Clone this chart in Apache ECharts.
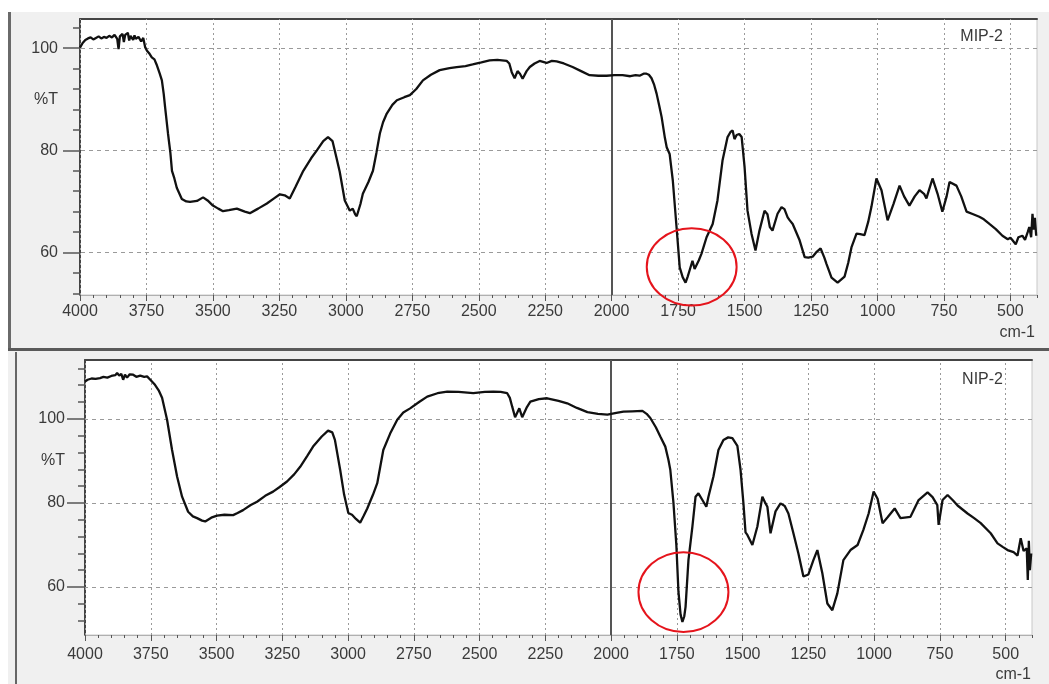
<!DOCTYPE html>
<html>
<head>
<meta charset="utf-8">
<script src="https://cdn.jsdelivr.net/npm/echarts@6/dist/echarts.min.js"></script>
<style>
  html, body { margin: 0; padding: 0; background: #fff; }
  #chart { width: 1049px; height: 684px; }
</style>
</head>
<body>
<div id="chart"></div>
<script>
// MIP-2 spectrum (upper panel), wavenumber cm-1 / %T
var mipWave = [4000, 3990, 3980, 3970, 3960, 3950, 3940, 3930, 3920, 3910, 3900, 3890, 3880, 3870, 3860, 3855, 3850, 3840, 3835, 3830,
  3820, 3815, 3810, 3800, 3795, 3790, 3780, 3770, 3762, 3755, 3748, 3740, 3730, 3720, 3712, 3700, 3692, 3685, 3680, 3669,
  3660, 3654, 3645, 3636, 3617, 3600, 3586, 3560, 3537, 3520, 3500, 3480, 3462, 3440, 3410, 3380, 3361, 3330, 3297, 3270,
  3248, 3230, 3211, 3190, 3160, 3130, 3109, 3085, 3067, 3050, 3035, 3023, 3004, 2985, 2974, 2965, 2959, 2945, 2936, 2915,
  2898, 2885, 2872, 2860, 2846, 2825, 2808, 2780, 2759, 2735, 2710, 2680, 2647, 2610, 2583, 2550, 2523, 2490, 2459, 2430,
  2395, 2385, 2376, 2365, 2354, 2345, 2335, 2320, 2308, 2290, 2271, 2245, 2225, 2207, 2180, 2147, 2115, 2083, 2050, 2019,
  1990, 1959, 1930, 1910, 1895, 1880, 1869, 1860, 1850, 1840, 1831, 1820, 1812, 1800, 1793, 1782, 1770, 1756, 1744, 1733,
  1722, 1714, 1707, 1696, 1688, 1681, 1672, 1662, 1643, 1620, 1602, 1583, 1564, 1553, 1545, 1538, 1530, 1520, 1511, 1500,
  1489, 1474, 1459, 1444, 1425, 1414, 1405, 1395, 1376, 1361, 1350, 1338, 1330, 1319, 1293, 1274, 1260, 1244, 1228, 1214,
  1200, 1192, 1173, 1150, 1124, 1110, 1098, 1079, 1065, 1049, 1035, 1023, 1004, 985, 962, 940, 917, 900, 880, 860,
  842, 825, 816, 793, 774, 756, 740, 729, 703, 685, 665, 640, 617, 600, 579, 555, 530, 510, 500, 492,
  480, 470, 455, 445, 435, 429, 422, 417, 412, 408, 403];
var mipT = [100.1, 101.0, 101.6, 101.9, 102.1, 101.7, 102.0, 102.3, 101.9, 102.2, 102.0, 102.4, 102.1, 102.6, 101.8, 99.8, 102.3, 102.8, 101.2, 102.6,
  103.0, 101.5, 102.4, 101.6, 102.5, 101.8, 102.2, 101.3, 102.0, 100.2, 99.5, 99.0, 98.2, 97.8, 96.8, 95.0, 93.7, 91.0, 88.5, 83.3,
  79.5, 76.0, 74.5, 72.7, 70.5, 70.0, 69.9, 70.1, 70.8, 70.2, 69.2, 68.6, 68.1, 68.3, 68.6, 68.0, 67.7, 68.6, 69.6, 70.6,
  71.4, 71.2, 70.6, 72.8, 76.0, 78.5, 80.0, 81.8, 82.6, 81.8, 78.5, 75.8, 70.2, 68.2, 68.6, 67.5, 67.1, 69.5, 71.5, 73.8,
  76.0, 79.5, 83.3, 85.5, 87.2, 88.9, 89.8, 90.4, 90.8, 92.0, 93.7, 94.8, 95.7, 96.1, 96.3, 96.5, 96.8, 97.2, 97.6, 97.7,
  97.5, 97.0, 95.3, 94.1, 95.5, 95.0, 94.0, 95.5, 96.3, 97.0, 97.5, 97.1, 97.5, 97.4, 97.0, 96.3, 95.5, 94.7, 94.6, 94.6,
  94.7, 94.7, 94.5, 94.7, 94.6, 95.0, 95.0, 94.8, 94.1, 92.8, 91.1, 88.5, 86.5, 82.5, 80.6, 79.3, 74.1, 65.0, 57.1, 55.2,
  54.1, 55.3, 56.5, 58.4, 56.8, 56.5, 58.5, 59.8, 63.0, 65.6, 70.2, 78.0, 82.6, 83.6, 83.9, 82.2, 83.0, 83.2, 82.6, 76.7,
  68.2, 63.7, 60.4, 64.3, 68.2, 67.5, 65.0, 64.3, 67.6, 68.9, 68.5, 66.9, 66.3, 65.6, 62.4, 59.1, 59.0, 59.2, 60.2, 60.8,
  59.0, 57.8, 55.1, 54.1, 55.3, 58.0, 61.0, 63.7, 63.6, 63.4, 66.0, 68.9, 74.5, 72.2, 66.3, 69.5, 73.1, 71.0, 69.2, 71.0,
  72.2, 71.5, 70.6, 74.5, 71.5, 68.0, 71.0, 73.8, 73.1, 71.0, 68.0, 67.5, 67.0, 66.5, 65.6, 64.6, 63.3, 62.6, 62.9, 62.4,
  61.6, 63.0, 63.3, 62.5, 64.0, 65.0, 63.0, 67.6, 64.5, 66.8, 63.3];

// NIP-2 spectrum (lower panel)
var nipWave = [4000, 3990, 3975, 3960, 3943, 3930, 3915, 3900, 3885, 3878, 3870, 3862, 3855, 3848, 3840, 3830, 3817, 3805, 3790, 3775,
  3764, 3750, 3734, 3720, 3707, 3688, 3669, 3650, 3631, 3608, 3590, 3574, 3555, 3543, 3520, 3498, 3470, 3437, 3420, 3399,
  3370, 3346, 3315, 3285, 3260, 3232, 3205, 3182, 3155, 3133, 3100, 3076, 3060, 3050, 3030, 3015, 2999, 2985, 2970, 2954,
  2940, 2927, 2905, 2889, 2866, 2840, 2813, 2790, 2764, 2730, 2699, 2660, 2623, 2580, 2524, 2480, 2448, 2420, 2395, 2385,
  2376, 2365, 2349, 2338, 2320, 2307, 2275, 2243, 2200, 2167, 2130, 2090, 2050, 2014, 1980, 1953, 1920, 1881, 1865, 1851,
  1830, 1813, 1794, 1782, 1775, 1763, 1752, 1744, 1736, 1729, 1722, 1717, 1706, 1691, 1679, 1668, 1653, 1638, 1630, 1611,
  1592, 1573, 1555, 1539, 1520, 1508, 1497, 1489, 1482, 1463, 1459, 1444, 1425, 1413, 1406, 1394, 1375, 1356, 1340, 1326,
  1307, 1288, 1269, 1250, 1231, 1216, 1197, 1178, 1159, 1140, 1117, 1090, 1063, 1041, 1021, 1002, 987, 968, 949, 922,
  900, 862, 831, 797, 778, 760, 755, 740, 721, 700, 683, 645, 620, 595, 557, 531, 510, 493, 470, 455,
  443, 432, 420, 416, 412, 408, 403];
var nipT = [108.9, 109.3, 109.6, 109.5, 109.7, 110.0, 109.8, 110.2, 110.4, 110.9, 110.3, 110.7, 109.3, 110.5, 109.8, 110.6, 110.5, 110.0, 110.3, 110.0,
  110.1, 109.2, 108.1, 106.8, 105.0, 99.8, 92.6, 86.3, 81.5, 77.9, 76.8, 76.4, 75.8, 75.6, 76.5, 77.0, 77.2, 77.1, 77.6, 78.3,
  79.5, 80.3, 81.7, 82.7, 83.8, 85.1, 86.8, 88.6, 91.2, 93.4, 95.8, 97.2, 96.8, 95.0, 87.9, 82.0, 77.6, 77.2, 76.2, 75.3,
  77.0, 78.7, 82.0, 84.7, 92.6, 96.5, 99.8, 101.5, 102.5, 104.0, 105.3, 106.1, 106.5, 106.4, 106.1, 106.4, 106.5, 106.4, 106.1, 105.0,
  102.9, 100.4, 102.5, 100.4, 102.8, 104.1, 104.7, 104.9, 104.3, 103.7, 102.6, 101.6, 101.2, 101.0, 101.4, 101.7, 101.8, 101.9, 101.2, 100.2,
  98.0, 95.8, 93.4, 90.2, 87.9, 80.0, 70.0, 58.9, 53.5, 51.7, 53.0, 55.3, 66.4, 74.4, 81.5, 82.3, 80.7, 79.1, 81.5, 86.3,
  92.6, 95.0, 95.6, 95.4, 93.6, 87.9, 79.9, 73.0, 72.4, 70.0, 69.6, 74.4, 81.5, 79.9, 79.1, 72.8, 78.0, 79.9, 79.3, 77.5,
  72.8, 68.0, 62.5, 63.0, 66.4, 68.8, 63.3, 56.1, 54.5, 58.5, 66.4, 68.8, 70.0, 73.6, 77.5, 82.7, 81.0, 75.2, 76.6, 78.7,
  76.4, 76.7, 80.7, 82.5, 81.4, 79.5, 74.8, 80.7, 81.9, 80.6, 79.4, 77.5, 76.4, 75.2, 72.8, 70.4, 69.5, 68.8, 68.3, 67.5,
  71.6, 68.6, 69.2, 61.7, 71.0, 64.0, 68.0];

// axis ticks and labels
var xLabelValues = [4000, 3750, 3500, 3250, 3000, 2750, 2500, 2250, 2000, 1750, 1500, 1250, 1000, 750, 500];
var xMinorTicks = [];
for (var v = 4000; v >= 400; v -= 50) xMinorTicks.push(v);
var yMajor = [60, 80, 100];
var yLabelValues = [60, 80, 90, 100];
var mipMinorY = [52, 56, 60, 64, 68, 72, 76, 80, 84, 88, 92, 96, 100, 104];
var nipMinorY = [52, 56, 60, 64, 68, 72, 76, 80, 84, 88, 92, 96, 100, 104, 108, 112];
var splitX = 2000;

// red marker ellipses: [centre wavenumber, centre %T, half width cm-1, half height %T]
var mipCircle = [1699, 57.2, 169, 7.55];
var nipCircle = [1725, 58.8, 171, 9.5];

var FONT = "'Liberation Sans', Arial, sans-serif";
var TXT = '#3a3a3a';

function zip(a, b) {
  return a.map(function (x, i) { return [x, b[i]]; });
}

function gridLines() {
  var d = [];
  xLabelValues.forEach(function (x) {
    if (x === splitX) return;
    d.push({ xAxis: x, lineStyle: { color: '#9a9a9a', type: [2, 3], width: 1 } });
  });
  yMajor.forEach(function (y) {
    d.push({ yAxis: y, lineStyle: { color: '#9a9a9a', type: [4, 4], width: 1 } });
  });
  d.push({ xAxis: splitX, lineStyle: { color: '#555', type: 'solid', width: 2 } });
  return d;
}

function xAxes(gi, margin) {
  return [
    {
      type: 'value', gridIndex: gi, min: 400, max: 4000, inverse: true, position: 'bottom',
      axisLine: { show: true, lineStyle: { color: '#b0b0b0', width: 1 } },
      axisTick: { show: true, customValues: xMinorTicks, length: 3, lineStyle: { color: '#555' } },
      axisLabel: {
        customValues: xLabelValues, margin: margin, color: TXT, fontSize: 16, fontFamily: FONT,
        formatter: function (v) { return String(v); }
      },
      splitLine: { show: false }
    },
    {
      type: 'value', gridIndex: gi, min: 400, max: 4000, inverse: true, position: 'bottom',
      axisLine: { show: false },
      axisTick: { show: true, customValues: xLabelValues, length: 6, lineStyle: { color: '#555' } },
      axisLabel: { show: false },
      splitLine: { show: false }
    },
    {
      type: 'value', gridIndex: gi, min: 400, max: 4000, inverse: true, position: 'top',
      axisLine: { show: true, lineStyle: { color: '#444', width: 2 } },
      axisTick: { show: false }, axisLabel: { show: false }, splitLine: { show: false }
    }
  ];
}

function yAxes(gi, min, max, minor, margin, tickLen) {
  return [
    {
      type: 'value', gridIndex: gi, min: min, max: max, position: 'left',
      axisLine: { show: true, lineStyle: { color: '#444', width: 2 } },
      axisTick: { show: true, customValues: yMajor, length: tickLen, lineStyle: { color: '#555', width: 1.5 } },
      axisLabel: {
        customValues: yLabelValues, margin: margin, color: TXT, fontSize: 16, fontFamily: FONT,
        formatter: function (v) { return v === 90 ? '%T' : String(v); }
      },
      splitLine: { show: false }
    },
    {
      type: 'value', gridIndex: gi, min: min, max: max, position: 'left',
      axisLine: { show: false },
      axisTick: { show: true, customValues: minor, length: 7, lineStyle: { color: '#555', width: 1.5 } },
      axisLabel: { show: false },
      splitLine: { show: false }
    }
  ];
}

var chart = echarts.init(document.getElementById('chart'), null, { renderer: 'canvas' });

var option = {
  animation: false,
  backgroundColor: '#f0f0f0',
  grid: [
    { left: 80, top: 19, width: 957, height: 276, show: true, backgroundColor: '#fff', borderColor: '#c8c8c8', borderWidth: 1 },
    { left: 85, top: 360, width: 947, height: 275, show: true, backgroundColor: '#fff', borderColor: '#c8c8c8', borderWidth: 1 }
  ],
  xAxis: xAxes(0, 9).concat(xAxes(1, 12)),
  yAxis: yAxes(0, 51.7, 105.7, mipMinorY, 22, 17).concat(yAxes(1, 48.6, 114.0, nipMinorY, 20, 18)),
  series: [
    {
      type: 'line', xAxisIndex: 0, yAxisIndex: 0, data: [], z: 1,
      markLine: { silent: true, symbol: 'none', label: { show: false }, data: gridLines() }
    },
    {
      name: 'MIP-2', type: 'line', xAxisIndex: 0, yAxisIndex: 0, z: 5,
      data: zip(mipWave, mipT), showSymbol: false, smooth: false,
      lineStyle: { color: '#111', width: 2.3 }
    },
    {
      type: 'line', xAxisIndex: 3, yAxisIndex: 2, data: [], z: 1,
      markLine: { silent: true, symbol: 'none', label: { show: false }, data: gridLines() }
    },
    {
      name: 'NIP-2', type: 'line', xAxisIndex: 3, yAxisIndex: 2, z: 5,
      data: zip(nipWave, nipT), showSymbol: false, smooth: false,
      lineStyle: { color: '#111', width: 2.3 }
    }
  ]
};

chart.setOption(option);

function ellipse(gi, c) {
  var p = chart.convertToPixel({ gridIndex: gi }, [c[0], c[1]]);
  var px = chart.convertToPixel({ gridIndex: gi }, [c[0] - c[2], c[1] + c[3]]);
  return {
    type: 'ellipse', z: 100,
    shape: { cx: p[0], cy: p[1], rx: Math.abs(px[0] - p[0]), ry: Math.abs(p[1] - px[1]) },
    style: { fill: 'none', stroke: '#e5141c', lineWidth: 2 }
  };
}

// window frame decoration + panel texts
chart.setOption({
  graphic: [
    { type: 'rect', z: -10, shape: { x: 0, y: 0, width: 1049, height: 12 }, style: { fill: '#fff' } },
    { type: 'rect', z: -10, shape: { x: 0, y: 0, width: 8, height: 684 }, style: { fill: '#fff' } },
    { type: 'rect', z: 50, shape: { x: 8, y: 12, width: 3, height: 336 }, style: { fill: '#6a6a6a' } },
    { type: 'rect', z: 50, shape: { x: 8, y: 348, width: 1041, height: 3 }, style: { fill: '#5a5a5a' } },
    { type: 'rect', z: 50, shape: { x: 15, y: 352, width: 2, height: 332 }, style: { fill: '#666' } },
    { type: 'text', z: 50, x: 1003, y: 37, style: { text: 'MIP-2', fill: TXT, font: '16px ' + FONT, align: 'right', verticalAlign: 'middle' } },
    { type: 'text', z: 50, x: 1003, y: 380, style: { text: 'NIP-2', fill: TXT, font: '16px ' + FONT, align: 'right', verticalAlign: 'middle' } },
    { type: 'text', z: 50, x: 1035, y: 333, style: { text: 'cm-1', fill: TXT, font: '16px ' + FONT, align: 'right', verticalAlign: 'middle' } },
    { type: 'text', z: 50, x: 1031, y: 675, style: { text: 'cm-1', fill: TXT, font: '16px ' + FONT, align: 'right', verticalAlign: 'middle' } },
    ellipse(0, mipCircle),
    ellipse(1, nipCircle)
  ]
});
</script>
</body>
</html>
